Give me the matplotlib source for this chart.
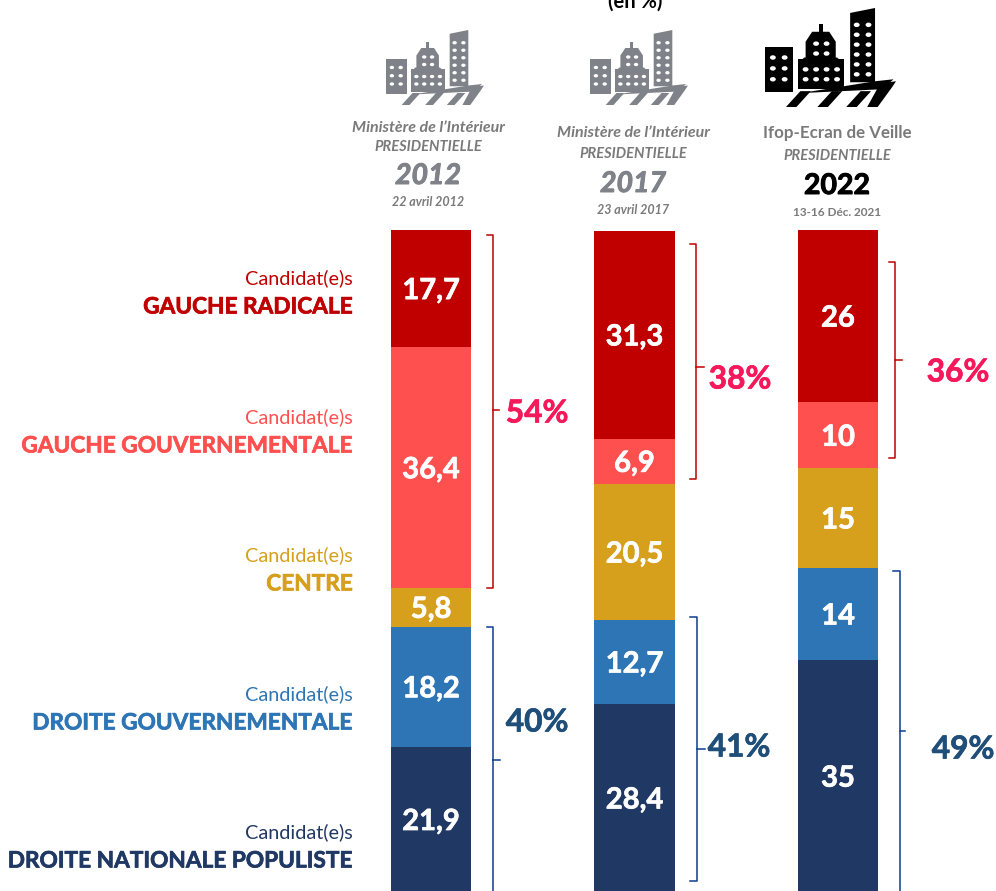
import matplotlib
matplotlib.use("Agg")
import matplotlib.pyplot as plt
import matplotlib.patheffects as pe
from matplotlib.patches import Rectangle, Polygon, Ellipse

plt.rcParams['font.family'] = ['Lato', 'DejaVu Sans']

years = ["2012", "2017", "2022"]
families = ["DROITE NATIONALE POPULISTE", "DROITE GOUVERNEMENTALE", "CENTRE",
            "GAUCHE GOUVERNEMENTALE", "GAUCHE RADICALE"]
droite_nationale = [21.9, 28.4, 35]
droite_gouv = [18.2, 12.7, 14]
centre = [5.8, 20.5, 15]
gauche_gouv = [36.4, 6.9, 10]
gauche_radicale = [17.7, 31.3, 26]
value_labels = [["21,9", "28,4", "35"], ["18,2", "12,7", "14"], ["5,8", "20,5", "15"],
                ["36,4", "6,9", "10"], ["17,7", "31,3", "26"]]
gauche_totals = ["54%", "38%", "36%"]
droite_totals = ["40%", "41%", "49%"]
sources = ["Ministère de l’Intérieur", "Ministère de l’Intérieur", "Ifop-Ecran de Veille"]
dates = ["22 avril 2012", "23 avril 2017", "13-16 Déc. 2021"]

colors = ["#203864", "#2E75B6", "#D6A01D", "#FF5050", "#C00000"]
W, H = 996, 891
fig = plt.figure(figsize=(W / 100, H / 100), dpi=100, facecolor="white")


def heavy(c, w=0.5):
    return [pe.withStroke(linewidth=w, foreground=c)]


# bars: x in category units, y in percentage points
ax = fig.add_axes([0, 0, 1, 1])
unit_x, unit_y = 203.5, 6.62
x0_px, y0_px = 431, 892
ax.set_xlim(-x0_px / unit_x, (W - x0_px) / unit_x)
ax.set_ylim((y0_px - H) / unit_y, y0_px / unit_y)
ax.axis("off")
series = [droite_nationale, droite_gouv, centre, gauche_gouv, gauche_radicale]
xs = list(range(len(years)))
bottom = [0, 0, 0]
for vals, col, labs in zip(series, colors, value_labels):
    ax.bar(xs, vals, width=0.398, bottom=bottom, color=col, linewidth=0)
    for i, v in enumerate(vals):
        ax.text(i, bottom[i] + v / 2, labs[i], color="white", fontsize=21, fontweight="bold",
                ha="center", va="center_baseline", path_effects=heavy("white"))
    bottom = [b + v for b, v in zip(bottom, vals)]

# annotations: overlay in pixel coordinates
ov = fig.add_axes([0, 0, 1, 1], facecolor="none")
ov.set_xlim(0, W)
ov.set_ylim(H, 0)
ov.axis("off")

# family labels
label_rows = [(278, 307, "#C00000", families[4]),
              (417, 446, "#FF5050", families[3]),
              (555, 584, "#D6A01D", families[2]),
              (694, 723, "#2E75B6", families[1]),
              (832, 861, "#203864", families[0])]
for y1, y2, c, t in label_rows:
    ov.text(353, y1, "Candidat(e)s", color=c, fontsize=14.3, ha="right", va="center")
    ov.text(353, y2, t, color=c, fontsize=16.3, fontweight="bold",
            ha="right", va="center", path_effects=heavy(c))


def bracket(x0, x1, y0, y1, ym, xt, col):
    ov.plot([x0, x1, x1, x0], [y0, y0, y1, y1], color=col, lw=1.1, solid_joinstyle="round")
    ov.plot([x1, xt], [ym, ym], color=col, lw=1.1)


RED, BLU = "#C00000", "#0B3D91"
bracket(487, 493, 235, 588, 410, 499, RED)
bracket(487, 493, 627, 900, 760, 500, BLU)
bracket(690, 696, 244, 479, 367, 704, RED)
bracket(690, 697, 617, 881, 749, 705, BLU)
bracket(889, 895, 262, 458, 360, 902, RED)
bracket(893, 900, 571, 900, 731, 905, BLU)

for (x, y), t in zip([(537, 413), (740, 379), (958, 372)], gauche_totals):
    ov.text(x, y, t, color="#F5185B", fontsize=22.8, fontweight="bold", ha="center", va="center",
            path_effects=heavy("#F5185B"))
for (x, y), t in zip([(537, 722), (739, 747), (963, 749)], droite_totals):
    ov.text(x, y, t, color="#1F4E79", fontsize=22.8, fontweight="bold", ha="center", va="center",
            path_effects=heavy("#1F4E79"))

# header
ov.text(635, 1.5, "(en %)", color="black", fontsize=14.5, fontweight="bold", ha="center", va="center")
GREY, GREY2 = "#7F8288", "#7A7A7A"
hdr = [(428, 128, 147, 176, 202), (633, 133, 154, 184, 210), (837, 133, 156, 186, 212)]
for i, (x, a, b, c, d) in enumerate(hdr):
    last = i == 2
    ov.text(x, a, sources[i], color=GREY2, fontsize=12.2 if last else 11.5,
            fontweight="bold", style="normal" if last else "italic", ha="center", va="center")
    ov.text(x, b, "PRESIDENTIELLE", color=GREY2, fontsize=10.5, fontweight="bold", style="italic",
            ha="center", va="center")
    ycol = "black" if last else GREY
    ov.text(x, c, years[i], color=ycol, fontsize=20.5, fontweight="bold",
            style="normal" if last else "italic", ha="center", va="center",
            path_effects=heavy(ycol, 0.7))
    ov.text(x, d, dates[i], color=GREY2, fontsize=8.5 if last else 9, fontweight="bold",
            style="normal" if last else "italic", ha="center", va="center")


def icon(x, y, w, h, col):
    def px(u, v):
        return (x + u * w, y + v * h)

    def rect(u0, v0, u1, v1, c=col):
        ov.add_patch(Rectangle(px(u0, v0), (u1 - u0) * w, (v1 - v0) * h, fc=c, ec="none"))

    def windows(us, vs):
        for u in us:
            for v in vs:
                ov.add_patch(Ellipse(px(u, v), 0.045 * w, 0.045 * h, fc="white", ec="none"))

    rect(0, 0.39, 0.21, 0.85)
    windows([0.06, 0.15], [0.50, 0.61, 0.72])
    rect(0.25, 0.52, 0.6, 0.82)
    ov.add_patch(Polygon([px(0.25, 0.56), px(0.3, 0.5), px(0.55, 0.5), px(0.6, 0.56)], fc=col, ec="none"))
    ov.add_patch(Polygon([px(0.31, 0.52), px(0.31, 0.34), px(0.36, 0.24), px(0.49, 0.24),
                          px(0.54, 0.34), px(0.54, 0.52)], fc=col, ec="none"))
    rect(0.41, 0.16, 0.44, 0.26)
    windows([0.39, 0.47], [0.36, 0.46])
    windows([0.31, 0.39, 0.47, 0.55], [0.62, 0.72])
    ov.add_patch(Polygon([px(0.65, 0.05), px(0.84, 0), px(0.84, 0.75), px(0.65, 0.75)], fc=col, ec="none"))
    windows([0.70, 0.79], [0.17, 0.27, 0.37, 0.47, 0.57, 0.67])
    for u in (0.16, 0.40, 0.62):
        ov.add_patch(Polygon([px(u, 1), px(u + 0.08, 1), px(u + 0.19, 0.84), px(u + 0.11, 0.84)],
                             fc=col, ec="none"))
    ov.add_patch(Polygon([px(0.78, 1), px(0.86, 1), px(0.97, 0.80), px(1.0, 0.74), px(0.88, 0.76)],
                         fc=col, ec="none"))
    ov.add_patch(Polygon([px(0.27, 0.86), px(0.90, 0.82), px(0.98, 0.72), px(0.84, 0.74)], fc=col, ec="none"))


icon(386, 30, 98, 75, "#7F8288")
icon(590, 30, 98, 75, "#7F8288")
icon(765, 8, 131, 99, "black")

fig.savefig("out.png", dpi=100)
